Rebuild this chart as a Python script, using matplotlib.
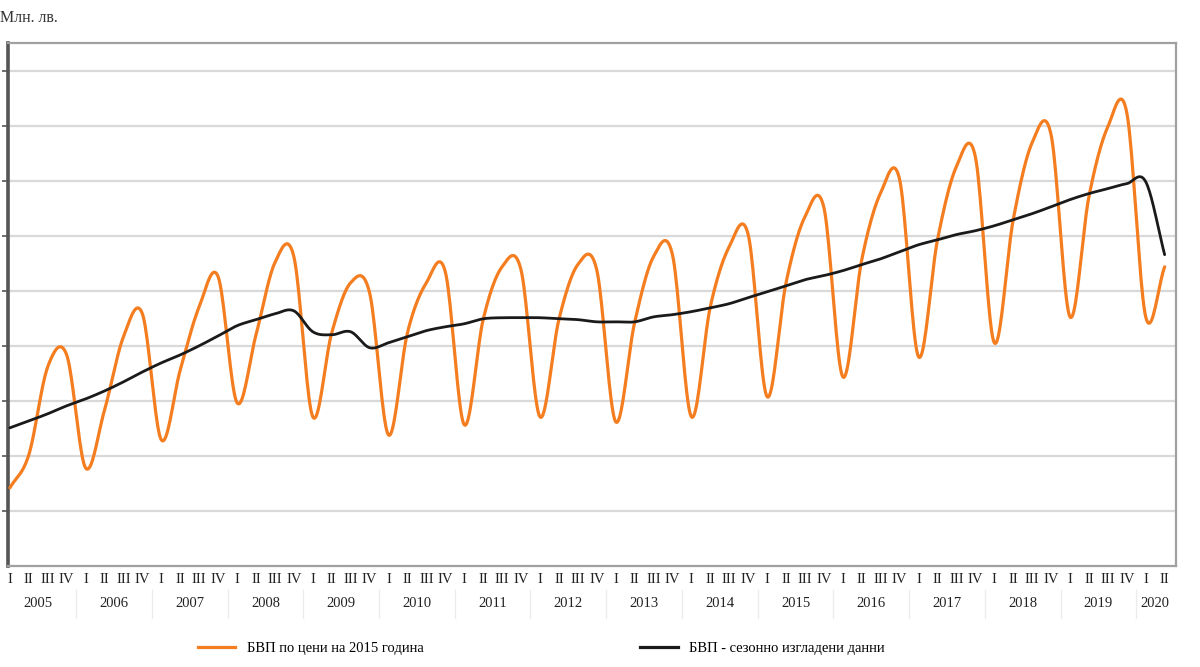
import numpy as np
import matplotlib.pyplot as plt
from matplotlib.lines import Line2D
import matplotlib.transforms as mtransforms

# quarterly data, 2005 Q1 .. 2020 Q2 (mln. BGN)
years = [str(y) for y in range(2005, 2021)]
quarters = ["I", "II", "III", "IV"]
n_quarters = [4] * 15 + [2]

gdp = [14840, 16040, 19240, 19670,
       15560, 17670, 20330, 21160,
       16580, 19130, 21420, 22510,
       17930, 20400, 23020, 23240,
       17420, 20470, 22290, 21930,
       16760, 20470, 22290, 22690,
       17130, 20950, 22870, 22760,
       17420, 20950, 22950, 22760,
       17240, 20840, 23240, 23310,
       17420, 21420, 23600, 24040,
       18150, 22290, 24690, 25020,
       18870, 23130, 25560, 26040,
       19600, 23850, 26510, 26870,
       20110, 24580, 27380, 27670,
       21050, 25420, 27960, 28470,
       21050, 22870]

gdp_sa = [17020, 17270, 17530, 17820,
          18070, 18360, 18690, 19050,
          19380, 19670, 20000, 20360,
          20730, 20950, 21160, 21270,
          20510, 20400, 20510, 19930,
          20110, 20330, 20550, 20690,
          20800, 20980, 21020, 21020,
          21020, 20980, 20950, 20870,
          20870, 20870, 21050, 21130,
          21240, 21380, 21530, 21750,
          21960, 22180, 22400, 22550,
          22730, 22950, 23160, 23420,
          23670, 23850, 24040, 24180,
          24360, 24580, 24800, 25050,
          25310, 25530, 25710, 25890,
          25960, 23310]

label_gdp = "БВП по цени на 2015 година"
label_sa = "БВП - сезонно изгладени данни"


def smooth(y, n=20):
    # Excel-like smoothed line (Catmull-Rom through the data points)
    y = np.asarray(y, dtype=float)
    p = np.concatenate([[2 * y[0] - y[1]], y, [2 * y[-1] - y[-2]]])
    t = np.linspace(0, 1, n, endpoint=False)
    xs, ys = [], []
    for i in range(len(y) - 1):
        p0, p1, p2, p3 = p[i:i + 4]
        yy = 0.5 * (2 * p1 + (-p0 + p2) * t
                    + (2 * p0 - 5 * p1 + 4 * p2 - p3) * t ** 2
                    + (-p0 + 3 * p1 - 3 * p2 + p3) * t ** 3)
        xs.append(i + t)
        ys.append(yy)
    xs.append([len(y) - 1])
    ys.append([y[-1]])
    return np.concatenate(xs), np.concatenate(ys)


serif = "Liberation Serif"
orange = "#f47d20"

fig = plt.figure(figsize=(12, 6.67), dpi=100)
ax = fig.add_axes([8 / 1200, 1 - 566 / 667, 1168 / 1200, 523 / 667])

x1, y1 = smooth(gdp)
x2, y2 = smooth(gdp_sa)
ax.plot(x1, y1, color=orange, lw=2.3, solid_capstyle="round", zorder=3)
ax.plot(x2, y2, color="#1a1a1a", lw=2.0, solid_capstyle="round", zorder=4)

ax.set_xlim(-0.1, 61.6)
ax.set_ylim(12000, 31000)
ax.set_yticks(range(14000, 30001, 2000))
ax.set_yticklabels([])
ax.yaxis.grid(True, color="#d9d9d9", lw=1.6)
ax.set_axisbelow(True)
ax.tick_params(axis="y", length=4, width=1.2, color="#555555", direction="out")

qlabels = []
for k in n_quarters:
    qlabels += quarters[:k]
ax.set_xticks(range(len(qlabels)))
ax.set_xticklabels(qlabels, fontfamily=serif, fontsize=10.5, color="#222222")
ax.tick_params(axis="x", length=0, pad=5)

for side in ["top", "right", "bottom"]:
    ax.spines[side].set_color("#a0a0a0")
    ax.spines[side].set_linewidth(1.6)
ax.spines["left"].set_color("#555555")
ax.spines["left"].set_linewidth(2.6)

# year labels and separators under the quarter labels
trans = mtransforms.blended_transform_factory(ax.transData, ax.transAxes)
start = 0
for yr, k in zip(years, n_quarters):
    ax.text(start + (k - 1) / 2, -0.072, yr, transform=trans, ha="center",
            va="center", fontfamily=serif, fontsize=10.5, color="#222222")
    if start > 0:
        ax.plot([start - 0.5, start - 0.5], [-0.045, -0.1], transform=trans,
                color="#ececec", lw=1.0, clip_on=False)
    start += k

fig.text(0.0, 1 - 18 / 667, "Млн. лв.", fontfamily=serif, fontsize=11.5,
         color="#333333", ha="left", va="center")

handles = [Line2D([], [], color=orange, lw=2.3),
           Line2D([], [], color="#1a1a1a", lw=2.3)]
fig.legend(handles, [label_gdp, label_sa], loc="center",
           bbox_to_anchor=(0.451, 1 - 648 / 667), ncol=2, frameon=False,
           handlelength=2.6, columnspacing=14.8,
           prop={"family": serif, "size": 10.5})

fig.savefig("out.png", dpi=100, facecolor="white")
